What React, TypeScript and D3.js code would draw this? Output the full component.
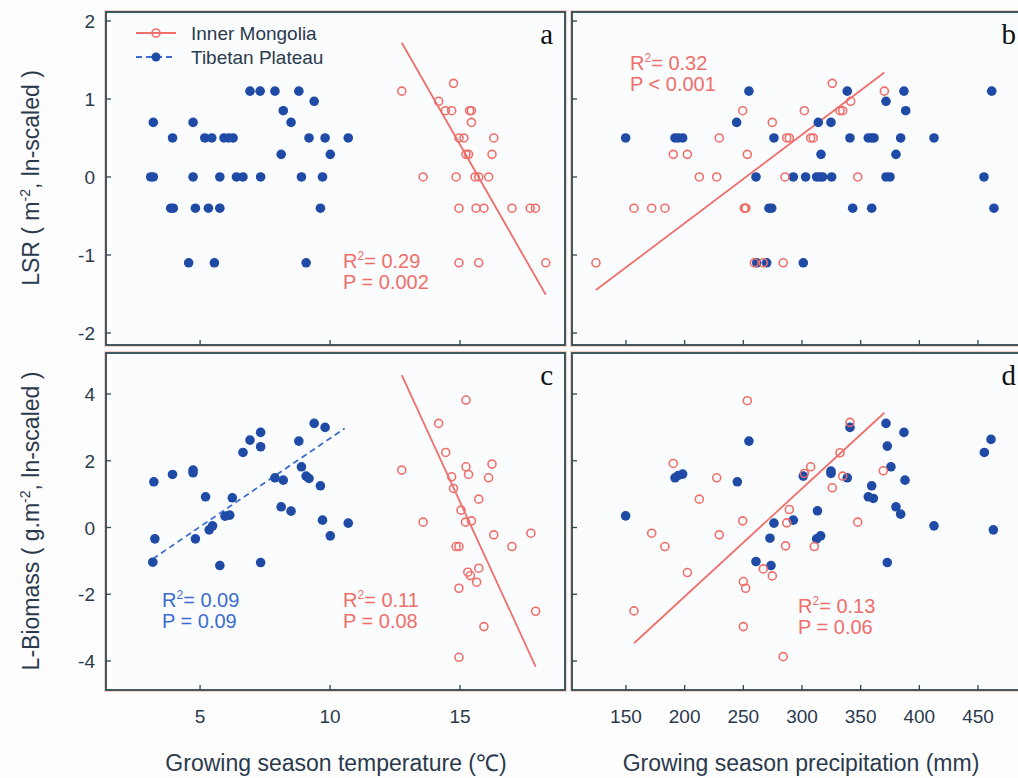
import React from "react";
import { scaleLinear, line } from "d3";

// tick values
const tempTicks = [5, 10, 15];
const precTicks = [150, 200, 250, 300, 350, 400, 450];
const lsrTicks = [-2, -1, 0, 1, 2];
const bioTicks = [-4, -2, 0, 2, 4];

// panel a: temperature vs LSR
const imTempLsr = [
  [12.76, 1.1], [13.58, 0], [14.18, 0.97], [14.44, 0.85], [14.68, 0.85], [14.75, 1.2],
  [14.85, 0], [14.96, 0.5], [15.15, 0.5], [14.96, -0.4], [14.96, -1.1], [15.23, 0.29],
  [15.33, 0.29], [15.37, 0.85], [15.44, 0.85], [15.44, 0.7], [15.58, 0], [15.72, 0],
  [15.62, -0.4], [15.72, -1.1], [15.92, -0.4], [16.1, 0], [16.23, 0.29], [16.3, 0.5],
  [17.0, -0.4], [17.7, -0.4], [17.9, -0.4], [18.3, -1.1],
];
const tpTempLsr = [
  [3.1, 0], [3.2, 0], [3.2, 0.7], [3.87, -0.4], [3.97, -0.4], [3.94, 0.5], [4.56, -1.1],
  [4.73, 0.7], [4.73, 0], [4.82, -0.4], [5.18, 0.5], [5.45, 0.5], [5.32, -0.4], [5.55, -1.1],
  [5.76, 0], [5.76, -0.4], [5.92, 0.5], [6.1, 0.5], [6.27, 0.5], [6.4, 0], [6.65, 0],
  [6.92, 1.1], [7.31, 1.1], [7.33, 0], [7.88, 1.1], [8.12, 0.29], [8.2, 0.85], [8.5, 0.7],
  [8.8, 1.1], [8.9, 0], [9.08, -1.1], [9.19, 0.5], [9.39, 0.97], [9.63, -0.4], [9.71, 0],
  [9.81, 0.5], [10.01, 0.29], [10.7, 0.5],
];
const imFitTempLsr = [[12.76, 1.72], [18.3, -1.51]];

// panel b: precipitation vs LSR
const imPrecLsr = [
  [124.4, -1.1], [156.8, -0.4], [171.9, -0.4], [183.2, -0.4], [190.3, 0.29], [202.3, 0.29],
  [212.5, 0], [227.3, 0], [229.5, 0.5], [249.5, 0.85], [250.8, -0.4], [251.5, -0.4],
  [252.2, -0.4], [253.4, 0.29], [259.4, -1.1], [267, -1.1], [274.7, 0.7], [284, -1.1],
  [285.5, 0], [287, 0.5], [289.2, 0.5], [302, 0.85], [307.4, 0.5], [309.6, 0.5],
  [325.8, 1.2], [332.4, 0.85], [334.7, 0.85], [341.5, 0.97], [347.5, 0], [370.2, 1.1],
];
const tpPrecLsr = [
  [149.7, 0.5], [191.8, 0.5], [194.6, 0.5], [198.3, 0.5], [244.3, 0.7], [254.8, 1.1],
  [260.8, 0], [261.4, -1.1], [269.9, -1.1], [271.9, -0.4], [274.2, -0.4], [276.1, 0.5],
  [292.6, 0], [301.1, -1.1], [303.1, 0], [312.5, 0], [315.3, 0], [317.6, 0], [313.9, 0.7],
  [316.2, 0.29], [324.7, 0.7], [325.3, 0], [338.6, 1.1], [340.9, 0.5], [343.2, -0.4],
  [356.5, 0.5], [359.4, 0.5], [361.4, 0.5], [359.4, -0.4], [371.6, 0.97], [371.6, 0],
  [375, 0], [380.1, 0.29], [384.1, 0.5], [386.9, 1.1], [388.4, 0.85], [412.5, 0.5],
  [455.1, 0], [461.7, 1.1], [463.6, -0.4],
];
const imFitPrecLsr = [[124.4, -1.45], [370.2, 1.34]];

// panel c: temperature vs biomass
const imTempBio = [
  [12.76, 1.72], [13.58, 0.16], [14.18, 3.12], [14.45, 2.25], [14.68, 1.52], [14.75, 1.17],
  [14.85, -0.57], [14.96, -0.57], [14.96, -1.82], [14.96, -3.89], [15.04, 0.52], [15.21, 0.16],
  [15.23, 3.82], [15.23, 1.82], [15.33, 1.59], [15.3, -1.34], [15.4, -1.44], [15.44, 0.2],
  [15.64, -1.64], [15.72, 0.85], [15.72, -1.22], [15.92, -2.97], [16.1, 1.49], [16.23, 1.9],
  [16.3, -0.22], [17.0, -0.57], [17.73, -0.17], [17.91, -2.51],
];
const tpTempBio = [
  [3.22, 1.37], [3.26, -0.34], [3.18, -1.04], [3.94, 1.59], [4.73, 1.72], [4.73, 1.64],
  [4.82, -0.34], [5.21, 0.92], [5.35, -0.07], [5.48, 0.05], [5.76, -1.14], [5.96, 0.34],
  [6.14, 0.37], [6.24, 0.89], [6.65, 2.25], [6.92, 2.62], [7.33, 2.85], [7.33, 2.42],
  [7.33, -1.05], [7.88, 1.49], [8.12, 0.62], [8.2, 1.42], [8.5, 0.49], [8.8, 2.59],
  [8.9, 1.82], [9.08, 1.54], [9.19, 1.47], [9.39, 3.12], [9.63, 1.25], [9.71, 0.22],
  [9.81, 3.0], [10.01, -0.25], [10.7, 0.13],
];
const imFitTempBio = [[12.76, 4.57], [17.91, -4.17]];
const tpFitTempBio = [[3.18, -0.94], [10.56, 2.97]];

// panel d: precipitation vs biomass
const imPrecBio = [
  [156.8, -2.5], [171.9, -0.17], [183.2, -0.57], [190.3, 1.92], [202.3, -1.35], [212.5, 0.85],
  [227.3, 1.49], [229.5, -0.22], [249.5, 0.2], [250, -2.97], [250, -1.62], [252, -1.82],
  [253.4, 3.8], [267, -1.24], [274.7, -1.45], [284, -3.87], [286, -0.55], [287, 0.14],
  [289.2, 0.54], [302, 1.62], [307.4, 1.82], [310.5, -0.57], [325.8, 1.19], [332.4, 2.24],
  [334.7, 1.54], [340.9, 3.15], [347.5, 0.16], [369.3, 1.7],
];
const tpPrecBio = [
  [149.7, 0.35], [191.8, 1.49], [194.6, 1.56], [198.3, 1.6], [244.9, 1.37], [254.8, 2.59],
  [260.8, -1.02], [272.7, -0.32], [273.6, -1.14], [276.1, 0.13], [292.6, 0.22], [301.1, 1.54],
  [312.5, -0.34], [315.9, -0.25], [313.2, 0.5], [324.7, 1.69], [324.7, 1.62], [338.6, 1.49],
  [340.9, 3.0], [356.5, 0.92], [360.8, 0.87], [359.4, 1.25], [371.6, 3.12], [372.7, 2.44],
  [372.7, -1.05], [375.8, 1.82], [380.1, 0.62], [384.1, 0.4], [386.9, 2.85], [387.8, 1.42],
  [412.5, 0.05], [455.4, 2.25], [461.1, 2.64], [463.1, -0.07],
];
const imFitPrecBio = [[156.8, -3.47], [370.2, 3.44]];

const RED = "#ef6f6a";
const BLUE = "#1f4ba6";
const BLUE_TXT = "#3b6cd0";
const INK = "#2a3a4c";
const FRAME = "#2d474e";
const FONT = "'Liberation Sans', Arial, sans-serif";

const xTemp = scaleLinear().domain([1.38, 19.04]).range([106, 565]);
const xPrec = scaleLinear().domain([104, 485.8]).range([572, 1020]);
const yLsr = scaleLinear().domain([-2.154, 2.115]).range([345, 12]);
const yBio = scaleLinear().domain([-4.87, 5.23]).range([690, 353]);

const Stat = ({ x, y, r2, p, color }) => (
  <g fill={color} fontFamily={FONT} fontSize={20}>
    <text x={x} y={y}>
      R<tspan dy={-8} fontSize={12}>2</tspan>
      <tspan dy={8}>= {r2}</tspan>
    </text>
    <text x={x} y={y + 21}>{p}</text>
  </g>
);

const Panel = ({ xs, ys, xTicks, yTicks, showX, showY, im, tp, imFit, tpFit, letter }) => {
  const [x0, x1] = xs.range();
  const [y0, y1] = ys.range();
  const path = line().x((d) => xs(d[0])).y((d) => ys(d[1]));
  return (
    <g>
      <rect x={x0} y={y1} width={x1 - x0} height={y0 - y1} fill="#fbfcfe" />
      <rect x={x0 - 1.5} y={y1 - 1.5} width={x1 - x0 + 3} height={y0 - y1 + 3} fill="none" stroke="#f4cfc8" strokeWidth={1} />
      <rect x={x0} y={y1} width={x1 - x0} height={y0 - y1} fill="none" stroke={FRAME} strokeWidth={1.8} />
      {yTicks.map((t) => (
        <g key={"y" + t}>
          <line x1={x0} x2={x0 + 5} y1={ys(t)} y2={ys(t)} stroke={FRAME} strokeWidth={1.3} />
          {showY && (
            <text x={x0 - 11} y={ys(t) + 7} textAnchor="end" fontSize={19} fontFamily={FONT} fill={INK}>
              {t}
            </text>
          )}
        </g>
      ))}
      {xTicks.map((t) => (
        <g key={"x" + t}>
          <line x1={xs(t)} x2={xs(t)} y1={y0} y2={y0 - 5} stroke={FRAME} strokeWidth={1.3} />
          {showX && (
            <text x={xs(t)} y={y0 + 33} textAnchor="middle" fontSize={19} fontFamily={FONT} fill={INK}>
              {t}
            </text>
          )}
        </g>
      ))}
      {imFit && <path d={path(imFit)} stroke={RED} strokeWidth={1.8} fill="none" />}
      {tpFit && <path d={path(tpFit)} stroke={BLUE_TXT} strokeWidth={1.8} strokeDasharray="6,4" fill="none" />}
      {tp.map((d, i) => (
        <circle key={"t" + i} cx={xs(d[0])} cy={ys(d[1])} r={4.8} fill={BLUE} />
      ))}
      {im.map((d, i) => (
        <circle key={"i" + i} cx={xs(d[0])} cy={ys(d[1])} r={4} fill="none" stroke={RED} strokeWidth={1.6} />
      ))}
      <text x={Math.min(x1, 1018) - 2 - (x1 > 1000 ? 0 : 10)} y={y1 + 32} textAnchor="end" fontSize={29} fontFamily="'Liberation Serif', 'Times New Roman', serif" fill="#111">
        {letter}
      </text>
    </g>
  );
};

const App = () => {
  return (
    <svg width={1018} height={778} style={{ position: "absolute", left: 0, top: 0, background: "#fdfdfe" }}>
      <Panel xs={xTemp} ys={yLsr} xTicks={tempTicks} yTicks={lsrTicks} showX={false} showY={true}
        im={imTempLsr} tp={tpTempLsr} imFit={imFitTempLsr} letter="a" />
      <Panel xs={xPrec} ys={yLsr} xTicks={precTicks} yTicks={lsrTicks} showX={false} showY={false}
        im={imPrecLsr} tp={tpPrecLsr} imFit={imFitPrecLsr} letter="b" />
      <Panel xs={xTemp} ys={yBio} xTicks={tempTicks} yTicks={bioTicks} showX={true} showY={true}
        im={imTempBio} tp={tpTempBio} imFit={imFitTempBio} tpFit={tpFitTempBio} letter="c" />
      <Panel xs={xPrec} ys={yBio} xTicks={precTicks} yTicks={bioTicks} showX={true} showY={false}
        im={imPrecBio} tp={tpPrecBio} imFit={imFitPrecBio} letter="d" />

      {/* legend */}
      <g fontFamily={FONT} fontSize={19} fill={INK}>
        <line x1={136} x2={176} y1={33} y2={33} stroke={RED} strokeWidth={1.8} />
        <circle cx={156} cy={33} r={4} fill="none" stroke={RED} strokeWidth={1.6} />
        <text x={191} y={40}>Inner Mongolia</text>
        <line x1={136} x2={176} y1={57} y2={57} stroke={BLUE_TXT} strokeWidth={1.8} strokeDasharray="6,4" />
        <circle cx={156} cy={57} r={4.5} fill={BLUE} />
        <text x={191} y={64}>Tibetan Plateau</text>
      </g>

      <Stat x={343} y={268} r2="0.29" p="P = 0.002" color={RED} />
      <Stat x={630} y={70} r2="0.32" p="P < 0.001" color={RED} />
      <Stat x={162} y={607} r2="0.09" p="P = 0.09" color={BLUE_TXT} />
      <Stat x={343} y={607} r2="0.11" p="P = 0.08" color={RED} />
      <Stat x={798} y={613} r2="0.13" p="P = 0.06" color={RED} />

      {/* axis titles */}
      <g fontFamily={FONT} fontSize={23} fill={INK}>
        <text transform="translate(39,178) rotate(-90)" textAnchor="middle">
          LSR ( m<tspan dy={-9} fontSize={14}>-2</tspan><tspan dy={9}>, ln-scaled )</tspan>
        </text>
        <text transform="translate(39,521) rotate(-90)" textAnchor="middle">
          L-Biomass ( g.m<tspan dy={-9} fontSize={14}>-2</tspan><tspan dy={9}>, ln-scaled )</tspan>
        </text>
        <text x={336} y={771} textAnchor="middle">Growing season temperature (℃)</text>
        <text x={801} y={771} textAnchor="middle">Growing season precipitation (mm)</text>
      </g>
    </svg>
  );
};

export default App;
